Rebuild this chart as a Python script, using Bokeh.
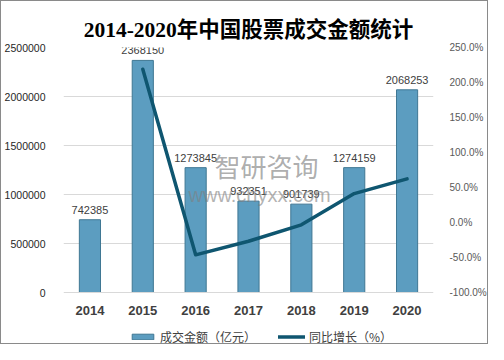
from bokeh.plotting import figure
from bokeh.models import (Range1d, LinearAxis, FixedTicker, PrintfTickFormatter,
                          NumeralTickFormatter, Legend, LegendItem, Label, Span,
                          ColumnDataSource)
from bokeh.core.properties import value
from bokeh.embed import file_html
from bokeh.resources import INLINE

# ---- data ----
years = ["2014", "2015", "2016", "2017", "2018", "2019", "2020"]
amount = [742385, 2368150, 1273845, 932351, 901739, 1274159, 2068253]
growth_years = ["2015", "2016", "2017", "2018", "2019", "2020"]
growth = [219.0, -46.2, -26.8, -3.3, 41.3, 62.3]
left_ticks = [0, 500000, 1000000, 1500000, 2000000, 2500000]
right_ticks = [-100, -50, 0, 50, 100, 150, 200, 250]
title_text = "2014-2020年中国股票成交金额统计"
bar_name = "成交金额（亿元）"
line_name = "同比增长（%）"
watermark_cn = "智研咨询"
watermark_url = "www.chyxx.com"

# ---- layout (pixels) ----
W, H = 488, 344
TOP, LEFT, RIGHT = 46, 60, 48
PLOT_H = 245              # pixel height of the value area (0 .. 2500000)
EXTRA = H - TOP - PLOT_H  # room under the zero line for year labels and legend

y_max = left_ticks[-1]
y_min = -y_max * EXTRA / PLOT_H
p_lo, p_hi = right_ticks[0], right_ticks[-1]
p_min = p_lo - (p_hi - p_lo) * EXTRA / PLOT_H

bar_src = ColumnDataSource(dict(x=years, y=amount, label=[str(v) for v in amount],
                                zero=[0] * len(years)))
line_src = ColumnDataSource(dict(x=growth_years, y=growth))

p = figure(x_range=years, y_range=Range1d(y_min, y_max),
           width=W, height=H,
           min_border_left=LEFT, min_border_right=RIGHT, min_border_top=TOP,
           min_border_bottom=0,
           output_backend="svg", toolbar_location=None, title=title_text)
p.extra_y_ranges = {"pct": Range1d(p_min, p_hi)}

p.title.align = "center"
p.title.text_font = "Liberation Serif, Noto Sans CJK SC"
p.title.text_font_size = "21.5px"
p.title.text_font_style = "bold"
p.title.text_color = "#000000"
p.title.offset = 0
p.title.standoff = 12

p.outline_line_color = None
p.background_fill_color = "white"
p.border_fill_color = "white"

p.xgrid.grid_line_color = None
p.ygrid.grid_line_color = "#d9d9d9"
p.ygrid.ticker = FixedTicker(ticks=left_ticks[1:])

# left axis
ya = p.yaxis[0]
ya.ticker = FixedTicker(ticks=left_ticks)
ya.formatter = NumeralTickFormatter(format="0")
ya.axis_line_color = None
ya.major_tick_line_color = None
ya.minor_tick_line_color = None
ya.major_label_standoff = 12
ya.major_label_text_font = "Liberation Sans"
ya.major_label_text_font_size = "10.5px"
ya.major_label_text_color = "#262626"

# right axis
ra = LinearAxis(y_range_name="pct", ticker=FixedTicker(ticks=right_ticks),
                formatter=PrintfTickFormatter(format="%.1f%%"))
ra.axis_line_color = None
ra.major_tick_line_color = None
ra.minor_tick_line_color = None
ra.major_label_standoff = 10
ra.major_label_text_font = "Liberation Sans"
ra.major_label_text_font_size = "10px"
ra.major_label_text_color = "#595959"
p.add_layout(ra, "right")

# category axis: drawn as a zero line plus year labels under it
p.xaxis.visible = False
p.add_layout(Span(location=0, dimension="width", line_color="#d9d9d9", line_width=1))
p.text(x="x", y="zero", text="x", source=bar_src, text_align="center",
       text_baseline="middle", y_offset=18, text_font=value("Liberation Sans"),
       text_font_size="13px", text_font_style="bold", text_color="#404040")

bars = p.vbar(x="x", top="y", width=0.4, source=bar_src,
              fill_color="#5c9dc0", line_color="#3f7793", line_width=1)
line = p.line(x="x", y="y", source=line_src, y_range_name="pct",
              line_color="#0f5670", line_width=3.5, line_join="round", line_cap="round")
p.text(x="x", y="y", text="label", source=bar_src, text_align="center",
       text_baseline="bottom", y_offset=-6, text_font=value("Liberation Sans"),
       text_font_size="11px", text_color="#404040")

# watermark
p.add_layout(Label(x=151, y=H - 164, x_units="screen", y_units="screen", text=watermark_cn,
                   text_font="Noto Sans CJK SC", text_font_size="26px",
                   text_baseline="middle",
                   text_color="#808080", text_alpha=0.65))
p.add_layout(Label(x=125, y=H - 193, x_units="screen", y_units="screen", text=watermark_url,
                   text_font="Liberation Sans", text_font_size="20px",
                   text_baseline="middle",
                   text_color="#808080", text_alpha=0.6))

legend = Legend(items=[LegendItem(label=bar_name, renderers=[bars]),
                       LegendItem(label=line_name, renderers=[line])],
                orientation="horizontal", location=(66, 0),
                glyph_width=27, glyph_height=7, label_height=14, label_standoff=4,
                spacing=22,
                label_text_font="Noto Sans CJK SC", label_text_font_size="12px",
                label_text_color="#404040", border_line_color=None,
                background_fill_alpha=0, padding=0, margin=0)
p.add_layout(legend, "center")

p.styles = {"border": "1px solid #8a8a8a"}

open("out.html", "w").write(file_html(p, INLINE))
